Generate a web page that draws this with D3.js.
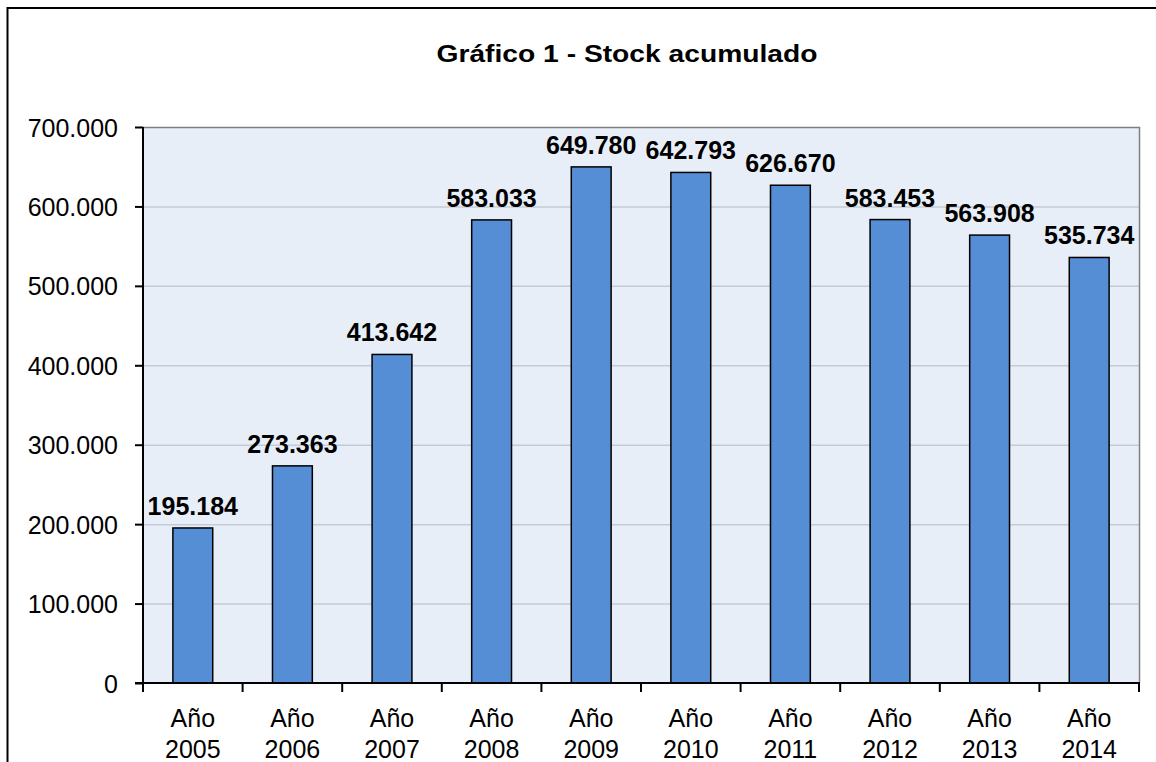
<!DOCTYPE html>
<html>
<head>
<meta charset="utf-8">
<script src="https://cdn.jsdelivr.net/npm/d3@7"></script>
<style>
  body { margin: 0; background: #fff; }
  text { font-family: "Liberation Sans", Arial, sans-serif; }
</style>
</head>
<body>
<script>
// Data
var years = ["2005", "2006", "2007", "2008", "2009", "2010", "2011", "2012", "2013", "2014"];
var stock = [195184, 273363, 413642, 583033, 649780, 642793, 626670, 583453, 563908, 535734];
var yTicks = [0, 100000, 200000, 300000, 400000, 500000, 600000, 700000];

var width = 1156;
var height = 762;

// Plot area (window.top is reserved, so use other names)
var plotLeft = 143, plotRight = 1139, plotTop = 127, plotBottom = 683;

var svg = d3.select("body")
  .append("svg")
  .attr("width", width)
  .attr("height", height);

// outer frame (runs off the page at right and bottom)
svg.append("rect")
  .attr("x", 7.5)
  .attr("y", 8)
  .attr("width", 1170)
  .attr("height", 780)
  .attr("fill", "none")
  .attr("stroke", "#000")
  .attr("stroke-width", 2);

// Title
svg.append("text")
  .attr("x", 627)
  .attr("y", 61.5)
  .attr("text-anchor", "middle")
  .attr("font-size", 23)
  .attr("font-weight", "bold")
  .attr("textLength", 381)
  .attr("lengthAdjust", "spacingAndGlyphs")
  .text("Gráfico 1 - Stock acumulado");

// Scales
var x = d3.scaleBand()
  .domain(years)
  .range([plotLeft, plotRight])
  .paddingInner(0)
  .paddingOuter(0);

var y = d3.scaleLinear()
  .domain([0, 700000])
  .range([plotBottom, plotTop]);

// Plot background
svg.append("rect")
  .attr("x", plotLeft)
  .attr("y", plotTop)
  .attr("width", plotRight - plotLeft)
  .attr("height", plotBottom - plotTop)
  .attr("fill", "#E8EEF8");

// Gridlines
svg.selectAll(".grid")
  .data(yTicks.filter(function (d) { return d > 0 && d < 700000; }))
  .enter()
  .append("line")
  .attr("x1", plotLeft)
  .attr("x2", plotRight)
  .attr("y1", function (d) { return y(d) + 0.5; })
  .attr("y2", function (d) { return y(d) + 0.5; })
  .attr("stroke", "#C4CBD6")
  .attr("stroke-width", 1.5);

// top and right border of plot
svg.append("path")
  .attr("d", "M" + plotLeft + "," + (plotTop + 0.5) + "H" + (plotRight + 0.5) + "V" + plotBottom)
  .attr("fill", "none")
  .attr("stroke", "#808080")
  .attr("stroke-width", 1.5);

// Bars
var bw = x.bandwidth() * 0.4;
svg.selectAll(".bar")
  .data(stock)
  .enter()
  .append("rect")
  .attr("x", function (d, i) { return x(years[i]) + x.bandwidth() / 2 - bw / 2; })
  .attr("y", function (d) { return y(d); })
  .attr("width", bw)
  .attr("height", function (d) { return plotBottom - y(d); })
  .attr("fill", "#558ED5")
  .attr("stroke", "#000")
  .attr("stroke-width", 1.5);

// Value labels
var fmt = d3.formatLocale({ decimal: ",", thousands: ".", grouping: [3], currency: ["", ""] }).format(",d");

svg.selectAll(".val")
  .data(stock)
  .enter()
  .append("text")
  .attr("x", function (d, i) { return x(years[i]) + x.bandwidth() / 2; })
  .attr("y", function (d) { return y(d) - 13; })
  .attr("text-anchor", "middle")
  .attr("font-size", 25)
  .attr("font-weight", "bold")
  .text(function (d) { return fmt(d); });

// Y axis
var yAxis = d3.axisLeft(y)
  .tickValues(yTicks)
  .tickSize(8)
  .tickPadding(17)
  .tickFormat(function (d) { return fmt(d); });

var gy = svg.append("g")
  .attr("transform", "translate(" + plotLeft + ",0)")
  .call(yAxis);
gy.select(".domain").attr("stroke", "#000").attr("stroke-width", 2)
  .attr("d", "M0," + plotTop + "V" + (plotBottom + 1));
gy.selectAll(".tick line").attr("stroke", "#000").attr("stroke-width", 2);
gy.selectAll(".tick text")
  .attr("font-size", 25)
  .attr("fill", "#000")
  .attr("font-family", "Liberation Sans, Arial, sans-serif")
  .attr("dy", "0.36em");

// X axis line and ticks at band edges
svg.append("line")
  .attr("x1", plotLeft - 8)
  .attr("x2", plotRight + 1)
  .attr("y1", plotBottom)
  .attr("y2", plotBottom)
  .attr("stroke", "#000")
  .attr("stroke-width", 2);

var edges = years.map(function (d) { return x(d); }).concat([plotRight]);
svg.selectAll(".xt")
  .data(edges)
  .enter()
  .append("line")
  .attr("x1", function (d) { return d; })
  .attr("x2", function (d) { return d; })
  .attr("y1", plotBottom)
  .attr("y2", plotBottom + 9)
  .attr("stroke", "#000")
  .attr("stroke-width", 2);

// Category labels
var cat = svg.selectAll(".cat")
  .data(years)
  .enter()
  .append("text")
  .attr("text-anchor", "middle")
  .attr("font-size", 25);

cat.append("tspan")
  .attr("x", function (d) { return x(d) + x.bandwidth() / 2; })
  .attr("y", 727)
  .text("Año");

cat.append("tspan")
  .attr("x", function (d) { return x(d) + x.bandwidth() / 2; })
  .attr("y", 758)
  .text(function (d) { return d; });
</script>
</body>
</html>
